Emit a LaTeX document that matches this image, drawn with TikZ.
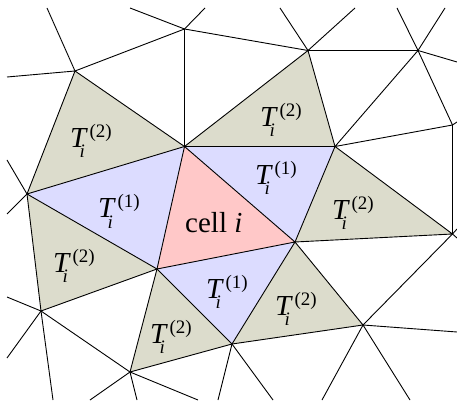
\documentclass[tikz,border=0pt]{standalone}
\usepackage{fontspec}
\setmainfont{Liberation Serif}
\newfontfamily\labfont{Liberation Serif}
\definecolor{cellpink}{RGB}{255,200,200}
\definecolor{tone}{RGB}{220,220,255}
\definecolor{ttwo}{RGB}{220,220,204}
\newcommand{\scrf}{\fontsize{19pt}{20pt}\selectfont}
\newcommand{\Tlab}[1]{\textit{T}\kern-8.5pt\rlap{\raisebox{-10pt}{\scrf\itshape i}}\kern10pt\raisebox{10pt}{\scrf(#1)}}
\begin{document}
\begin{tikzpicture}[x=1pt,y=-1pt,
  edge/.style={line width=0.9pt, line join=round},
  lab/.style={font=\labfont\fontsize{29pt}{32pt}\selectfont, inner sep=0pt, anchor=base west}]
\useasboundingbox (0,0) rectangle (457,403);
% mesh vertices
\coordinate (A) at (75,71);
\coordinate (B) at (184.5,29);
\coordinate (C) at (184.5,146.5);
\coordinate (D) at (27,194);
\coordinate (E) at (308,50.5);
\coordinate (F) at (418,50.5);
\coordinate (G) at (335,146.5);
\coordinate (H) at (452.5,125);
\coordinate (I) at (157,269);
\coordinate (J) at (41,311);
\coordinate (K) at (130,372);
\coordinate (L) at (232,344);
\coordinate (M) at (295,242);
\coordinate (N) at (452.5,234);
\coordinate (O) at (363,325);
% boundary ends
\coordinate (a1) at (47,8);  \coordinate (a2) at (7,77);
\coordinate (b1) at (130,8); \coordinate (b2) at (205,8);
\coordinate (e1) at (280,8); \coordinate (e2) at (355,8);
\coordinate (f1) at (397,8); \coordinate (f2) at (445,8); \coordinate (f3) at (457,62);
\coordinate (h1) at (457,122);
\coordinate (n1) at (457,229); \coordinate (n2) at (457,238);
\coordinate (d1) at (7,160); \coordinate (d2) at (7,214);
\coordinate (j1) at (7,297); \coordinate (j2) at (7,358); \coordinate (j3) at (53,400);
\coordinate (k1) at (90,400); \coordinate (k2) at (137,400); \coordinate (k3) at (198,400);
\coordinate (l1) at (218,400); \coordinate (l2) at (273,400);
\coordinate (o1) at (322,400); \coordinate (o2) at (410,400); \coordinate (o3) at (457,332);
% fills
\fill[cellpink] (C) -- (M) -- (I) -- cycle;
\fill[tone] (C) -- (G) -- (M) -- cycle;
\fill[tone] (C) -- (D) -- (I) -- cycle;
\fill[tone] (I) -- (M) -- (L) -- cycle;
\fill[ttwo] (A) -- (C) -- (D) -- cycle;
\fill[ttwo] (C) -- (E) -- (G) -- cycle;
\fill[ttwo] (G) -- (N) -- (M) -- cycle;
\fill[ttwo] (D) -- (I) -- (J) -- cycle;
\fill[ttwo] (I) -- (L) -- (K) -- cycle;
\fill[ttwo] (M) -- (O) -- (L) -- cycle;
% edges
\draw[edge] (C) -- (M) -- (I) -- cycle;
\draw[edge] (C) -- (G) -- (M);
\draw[edge] (C) -- (D) -- (I);
\draw[edge] (M) -- (L) -- (I);
\draw[edge] (D) -- (A) -- (C);
\draw[edge] (C) -- (E) -- (G);
\draw[edge] (G) -- (N) -- (M);
\draw[edge] (D) -- (J) -- (I);
\draw[edge] (I) -- (K) -- (L);
\draw[edge] (M) -- (O) -- (L);
\draw[edge] (A) -- (B) -- (C);
\draw[edge] (B) -- (E) -- (F) -- (G) -- (H) -- (F);
\draw[edge] (H) -- (N) -- (O);
\draw[edge] (J) -- (K);
\draw[edge] (A) -- (a1); \draw[edge] (A) -- (a2);
\draw[edge] (B) -- (b1); \draw[edge] (B) -- (b2);
\draw[edge] (E) -- (e1); \draw[edge] (E) -- (e2);
\draw[edge] (F) -- (f1); \draw[edge] (F) -- (f2); \draw[edge] (F) -- (f3);
\draw[edge] (H) -- (h1);
\draw[edge] (N) -- (n1); \draw[edge] (N) -- (n2);
\draw[edge] (D) -- (d1); \draw[edge] (D) -- (d2);
\draw[edge] (J) -- (j1); \draw[edge] (J) -- (j2); \draw[edge] (J) -- (j3);
\draw[edge] (K) -- (k1); \draw[edge] (K) -- (k2); \draw[edge] (K) -- (k3);
\draw[edge] (L) -- (l1); \draw[edge] (L) -- (l2);
\draw[edge] (O) -- (o1); \draw[edge] (O) -- (o2); \draw[edge] (O) -- (o3);
% labels
\node[lab] (celli) at (185,233) {cell \textit{i}};
\node[lab] (t1a) at (98,218) {\Tlab{1}};
\node[lab] (t1b) at (255,185) {\Tlab{1}};
\node[lab] (t1c) at (206,298) {\Tlab{1}};
\node[lab] (t2a) at (70,148) {\Tlab{2}};
\node[lab] (t2b) at (260,127) {\Tlab{2}};
\node[lab] (t2c) at (332,219) {\Tlab{2}};
\node[lab] (t2d) at (53,272) {\Tlab{2}};
\node[lab] (t2e) at (150,343) {\Tlab{2}};
\node[lab] (t2f) at (275,315) {\Tlab{2}};
\end{tikzpicture}
\end{document}
